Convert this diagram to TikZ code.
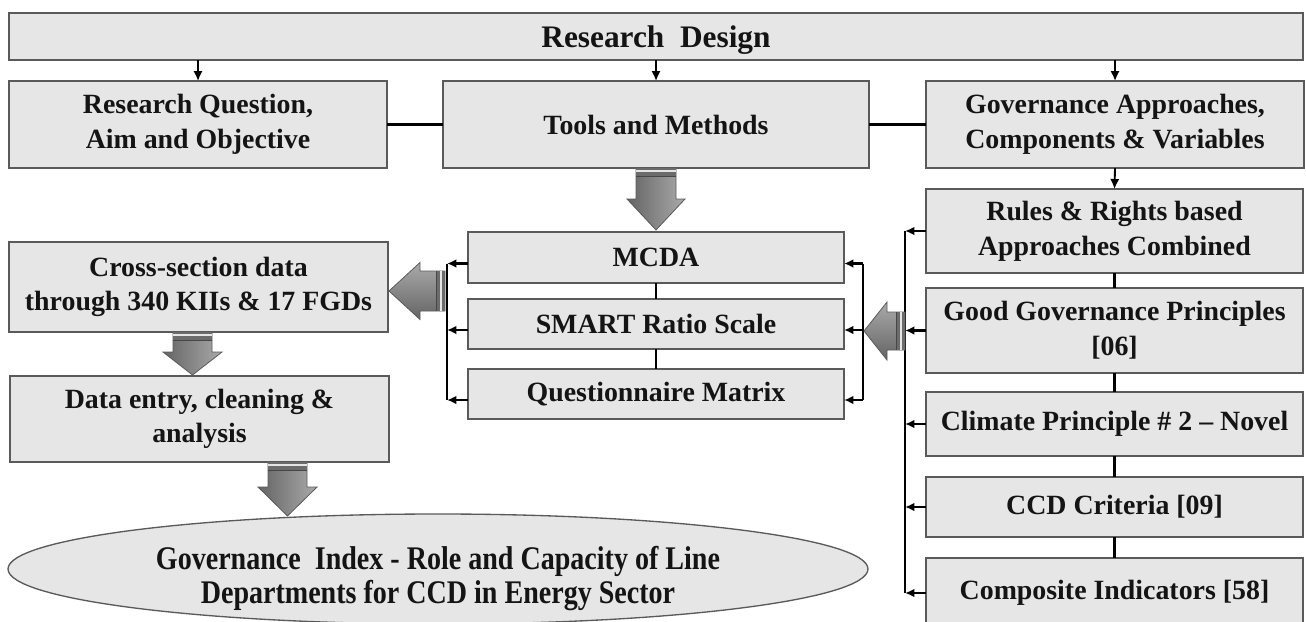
\documentclass[tikz,border=0pt]{standalone}
\usepackage{fontspec}
\setmainfont{Liberation Serif}
\newfontfamily\condfont{Liberation Serif}[FakeStretch=0.85]
\usetikzlibrary{arrows.meta,shapes.geometric}
\definecolor{boxfill}{RGB}{230,230,230}
\definecolor{boxline}{RGB}{90,90,90}
\definecolor{arrdark}{RGB}{100,100,100}
\definecolor{arrlight}{RGB}{170,170,170}
\definecolor{stripe}{RGB}{70,70,70}
\definecolor{txt}{RGB}{20,20,20}
\tikzset{
  x=0.75pt, y=-0.75pt,
  box/.style={draw=boxline, fill=boxfill, line width=1.1pt, inner sep=0pt, outer sep=0pt,
    align=center, text=txt, font=\bfseries\fontsize{20.9}{26}\selectfont},
  link/.style={line width=1.7pt, black},
  smallarr/.style={line width=1.4pt, black, -{Latex[length=7.5pt,width=7pt]}},
  busline/.style={line width=1.8pt, black},
  busarr/.style={line width=1.8pt, black, -{Latex[length=7pt,width=6.5pt]}},
  blockv/.style={draw=boxline, line width=0.6pt, left color=arrdark, right color=arrlight},
  blockh/.style={draw=boxline, line width=0.6pt, top color=arrlight, bottom color=arrdark},
  stripeline/.style={draw=stripe, line width=0.7pt},
}
\newcommand\mkbox[6]{\node[box, minimum width={(#4-#2)*0.75pt}, minimum height={(#5-#3)*0.75pt}] (#1) at ({(#2+#4)/2},{(#3+#5)/2}) {#6};}
% down block arrow: cx, ytop, ybase, ytip, shaft half, head half
\newcommand\downblock[6]{%
  \draw[blockv] (#1-#5,#2) -- (#1+#5,#2) -- (#1+#5,#3) -- (#1+#6,#3) -- (#1,#4) -- (#1-#6,#3) -- (#1-#5,#3) -- cycle;
  \fill[stripe!80] (#1-#5,#2) rectangle (#1+#5,#2+8);
  \draw[white!80!gray, line width=0.8pt] (#1-#5,#2+3) -- (#1+#5,#2+3);
  \draw[stripeline] (#1-#5,#2+8) -- (#1+#5,#2+8);
}
% left block arrow: cy, xroot, xbase, xtip, shaft half, head half
\newcommand\leftblock[6]{%
  \draw[blockh] (#2,#1-#5) -- (#2,#1+#5) -- (#3,#1+#5) -- (#3,#1+#6) -- (#4,#1) -- (#3,#1-#6) -- (#3,#1-#5) -- cycle;
  \fill[stripe!80] (#2-9,#1-#5) rectangle (#2,#1+#5);
  \draw[white!80!gray, line width=0.8pt] (#2-4,#1-#5) -- (#2-4,#1+#5);
  \draw[stripeline] (#2-9,#1-#5) -- (#2-9,#1+#5);
}
\begin{document}
\begin{tikzpicture}
\useasboundingbox (0,0) rectangle (1306,621);
\clip (0,0) rectangle (1306,621);
\fill[white] (0,0) rectangle (1306,621);

% boxes
\node[box, minimum width={1294*0.75pt}, minimum height={47*0.75pt}] (top) at (656,36.5) {};
\node[text=txt, font=\bfseries\fontsize{23.5}{26}\selectfont, anchor=base] (toptext) at ([yshift=-8.5pt]top.center) {Research\ \ Design};
\mkbox{rq}{9}{81}{387}{168}{Research Question,\\Aim and Objective}
\mkbox{tools}{443}{81}{869}{168}{Tools and Methods}
\mkbox{gov}{926}{81}{1304}{168}{Governance Approaches,\\Components \& Variables}

\mkbox{rules}{926}{189}{1303}{273}{Rules \& Rights based\\Approaches Combined}
\mkbox{good}{926}{288}{1303}{373}{Good Governance Principles\\{[06]}}
\mkbox{climate}{926}{392}{1303}{456}{Climate Principle \# 2 – Novel}
\mkbox{ccd}{926}{477}{1303}{537}{CCD Criteria [09]}
\mkbox{comp}{926}{558}{1303}{628}{Composite Indicators [58]}

\mkbox{mcda}{468}{232}{844}{283}{MCDA}
\mkbox{smart}{468}{299}{844}{349}{SMART Ratio Scale}
\mkbox{quest}{468}{369}{844}{419}{Questionnaire Matrix}

\mkbox{cross}{9}{242}{388}{332}{Cross-section data\\through 340 KIIs \& 17 FGDs}
\mkbox{entry}{10}{376}{389}{462}{Data entry, cleaning \&\\analysis}

\node[draw=boxline, fill=boxfill, line width=1pt, ellipse, inner sep=0pt, outer sep=0pt,
      minimum width=645pt, minimum height=82.5pt] (gi) at (438,569) {};
\node[align=center, text=txt, font=\condfont\bfseries\fontsize{24.75}{25.5}\selectfont] (gitext) at ([yshift=-7pt]gi.center)
  {Governance\ \ Index - Role and Capacity of Line\\Departments for CCD in Energy Sector};

% small arrows from the top box
\draw[smallarr] (top.south -| rq.north) -- (rq.north);
\draw[smallarr] (top.south -| tools.north) -- (tools.north);
\draw[smallarr] (top.south -| gov.north) -- (gov.north);
\draw[smallarr] (gov.south) -- (rules.north);

% row links
\draw[link] (rq.east) -- (tools.west);
\draw[link] (tools.east) -- (gov.west);

% right column chain
\draw[link] (rules.south) -- (good.north);
\draw[link] (good.south) -- (climate.north);
\draw[link] (climate.south) -- (ccd.north);
\draw[link] (ccd.south) -- (comp.north);

% middle chain
\draw[link] (mcda.south) -- (smart.north);
\draw[link] (smart.south) -- (quest.north);

% buses
\coordinate (lbus) at (447,0);
\coordinate (rbus) at (863,0);
\coordinate (cbus) at (905,0);

\foreach \n in {mcda,smart,quest}{
  \draw[busarr] ([yshift=-4.5pt]\n.west) -- ([yshift=-4.5pt]\n.west -| lbus);
  \draw[busarr] ([yshift=-4.5pt]\n.east -| rbus) -- ([yshift=-4.5pt]\n.east);
}
\draw[busline] ([yshift=-4.5pt]mcda.west -| lbus) -- ([yshift=-4.5pt]quest.west -| lbus);
\draw[busline] ([yshift=-4.5pt]mcda.east -| rbus) -- ([yshift=-4.5pt]quest.east -| rbus);

\foreach \n in {rules,good,climate,ccd,comp}{
  \draw[busarr] (\n.west) -- (\n.west -| cbus);
}
\draw[busline] (rules.west -| cbus) -- (comp.west -| cbus);

% block arrows
\downblock{656}{168}{199}{230}{20}{29}
\downblock{192.5}{332}{352}{375}{19.5}{29.5}
\downblock{287.5}{462}{487}{516}{19.5}{29.5}
\leftblock{291}{445}{420}{389}{20}{28.5}
\leftblock{331}{905}{887}{864}{19}{29}
\end{tikzpicture}
\end{document}
